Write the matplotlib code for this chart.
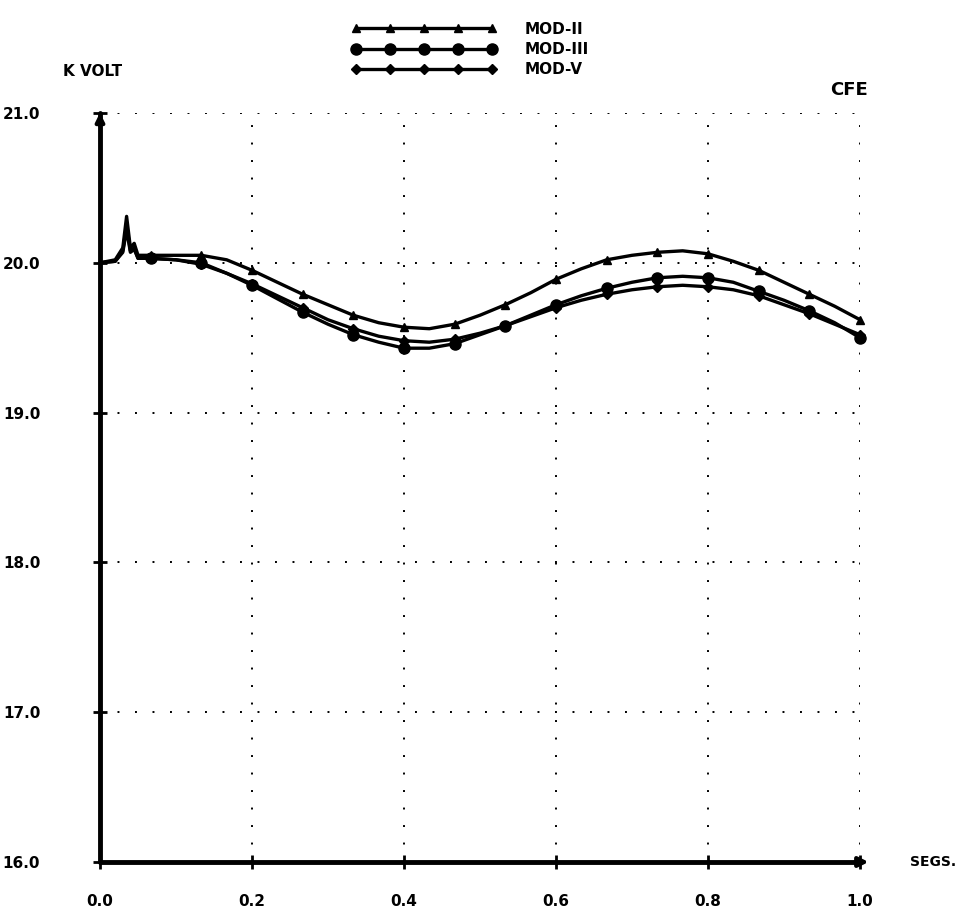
import matplotlib
matplotlib.use("Agg")
import matplotlib.pyplot as plt

# ---- data ----
t = [0.0, 0.02, 0.03, 0.035, 0.04, 0.045, 0.05,
     0.0667, 0.1, 0.1333, 0.1667, 0.2, 0.2333, 0.2667, 0.3, 0.3333, 0.3667,
     0.4, 0.4333, 0.4667, 0.5, 0.5333, 0.5667, 0.6, 0.6333, 0.6667, 0.7,
     0.7333, 0.7667, 0.8, 0.8333, 0.8667, 0.9, 0.9333, 0.9667, 1.0]

mod_ii = [20.0, 20.02, 20.10, 20.31, 20.10, 20.13, 20.05,
          20.05, 20.05, 20.05, 20.02, 19.95, 19.87, 19.79, 19.72, 19.65, 19.60,
          19.57, 19.56, 19.59, 19.65, 19.72, 19.80, 19.89, 19.96, 20.02, 20.05,
          20.07, 20.08, 20.06, 20.01, 19.95, 19.87, 19.79, 19.71, 19.62]

mod_iii = [20.0, 20.01, 20.08, 20.25, 20.08, 20.10, 20.03,
           20.03, 20.02, 20.00, 19.93, 19.85, 19.76, 19.67, 19.59, 19.52, 19.47,
           19.43, 19.43, 19.46, 19.52, 19.58, 19.65, 19.72, 19.78, 19.83, 19.87,
           19.90, 19.91, 19.90, 19.87, 19.81, 19.75, 19.68, 19.60, 19.50]

mod_v = [20.0, 20.01, 20.07, 20.22, 20.07, 20.09, 20.03,
         20.03, 20.02, 19.99, 19.93, 19.86, 19.78, 19.70, 19.62, 19.56, 19.51,
         19.48, 19.47, 19.49, 19.53, 19.58, 19.64, 19.70, 19.75, 19.79, 19.82,
         19.84, 19.85, 19.84, 19.82, 19.78, 19.72, 19.66, 19.59, 19.52]

series_labels = ["MOD-II", "MOD-III", "MOD-V"]
x_ticks = [0.0, 0.2, 0.4, 0.6, 0.8, 1.0]
x_ticklabels = ["0.0", "0.2", "0.4", "0.6", "0.8", "1.0"]
y_ticks = [16, 17, 18, 19, 20, 21]
y_ticklabels = ["16.0", "17.0", "18.0", "19.0", "20.0", "21.0"]

# ---- figure ----
fig = plt.figure(figsize=(9.63, 9.15), dpi=100)
ax = fig.add_axes([100/963, 1-862/915, 760/963, 749/915])
ax.set_xlim(0, 1)
ax.set_ylim(16, 21)

mk_idx = list(range(7, len(t), 2))
styles = [("^", 6), ("o", 8), ("D", 5)]
for ys, lab, (m, ms) in zip([mod_ii, mod_iii, mod_v], series_labels, styles):
    ax.plot(t, ys, color="black", lw=2.4, marker=m, ms=ms, markevery=mk_idx,
            label=lab, solid_capstyle="round", clip_on=False)

# grid: sparse dotted
ax.grid(True, color="black", linestyle=(0, (1, 8)), linewidth=1.4)
ax.set_axisbelow(True)

for s in ["top", "right"]:
    ax.spines[s].set_visible(False)
for s in ["left", "bottom"]:
    ax.spines[s].set_linewidth(3.5)
    ax.spines[s].set_capstyle("round")

# arrow heads
ax.annotate("", xy=(1.015, 16), xytext=(0.99, 16), xycoords="data",
            arrowprops=dict(arrowstyle="-|>", color="black", lw=3, mutation_scale=14),
            annotation_clip=False)
ax.annotate("", xy=(0, 21.02), xytext=(0, 20.9), xycoords="data",
            arrowprops=dict(arrowstyle="-|>", color="black", lw=3, mutation_scale=12),
            annotation_clip=False)

ax.set_xticks(x_ticks)
ax.set_xticklabels(x_ticklabels, fontsize=11, fontweight="bold")
ax.set_yticks(y_ticks)
ax.set_yticklabels(y_ticklabels, fontsize=11, fontweight="bold")
ax.tick_params(axis="x", direction="inout", length=10, width=2, pad=18)
ax.tick_params(axis="y", direction="inout", length=10, width=2, pad=38)

fig.text(63/963, 1-72/915, "K VOLT", fontsize=11, fontweight="bold", ha="left", va="center")
fig.text(868/963, 1-90/915, "CFE", fontsize=13, fontweight="bold", ha="right", va="center")
fig.text(956/963, 1-862/915, "SEGS.", fontsize=10, fontweight="bold", ha="right", va="center")

leg = fig.legend(loc="upper left", bbox_to_anchor=(338/963, 1-8/915), frameon=False,
                 handlelength=9.5, numpoints=5, labelspacing=0.35, handletextpad=1.8,
                 prop=dict(size=11, weight="bold"))

fig.savefig("out.png", dpi=100)
